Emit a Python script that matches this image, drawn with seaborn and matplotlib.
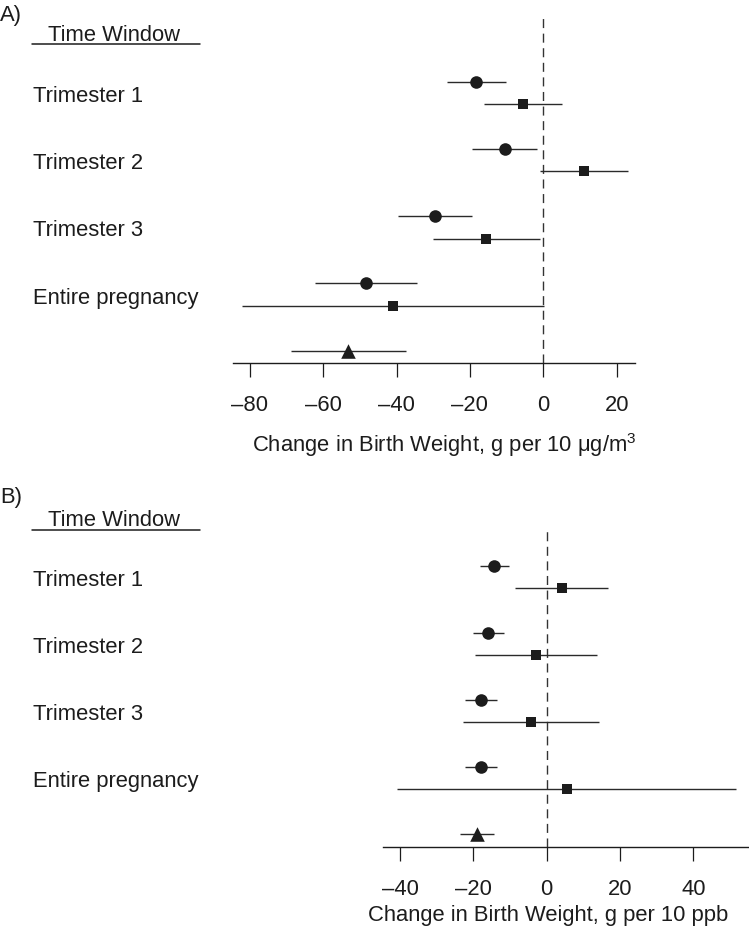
import numpy as np
import pandas as pd
import seaborn as sns
import matplotlib.pyplot as plt

# values
windows = ["Trimester 1", "Trimester 2", "Trimester 3", "Entire pregnancy"]

pm_circle_est = [-18.4, -10.4, -29.6, -48.2]
pm_circle_lo = [-26.3, -19.3, -39.5, -62.2]
pm_circle_hi = [-10.2, -1.6, -19.5, -34.3]
pm_square_est = [-5.5, 11.1, -15.5, -40.9]
pm_square_lo = [-16.1, -0.9, -30.0, -82.0]
pm_square_hi = [5.2, 23.2, -0.9, 0.2]
pm_triangle = [-53.1, -68.8, -37.3]  # est, lo, hi

o3_circle_est = [-14.3, -15.9, -18.0, -18.0]
o3_circle_lo = [-18.2, -20.0, -22.4, -22.4]
o3_circle_hi = [-10.4, -11.7, -13.6, -13.6]
o3_square_est = [4.1, -3.0, -4.3, 5.5]
o3_square_lo = [-8.6, -19.6, -22.9, -40.7]
o3_square_hi = [16.8, 13.6, 14.3, 51.6]
o3_triangle = [-18.9, -23.5, -14.4]

pm_ticks = [-80, -60, -40, -20, 0, 20]
o3_ticks = [-40, -20, 0, 20, 40]

sns.set_style("white")
plt.rcParams['font.family'] = ['Liberation Sans', 'DejaVu Sans']
plt.rcParams['mathtext.fontset'] = 'custom'
plt.rcParams['mathtext.rm'] = 'Liberation Sans'

INK = '#1c1c1c'
FS = 15.8


def build_frame(c_est, c_lo, c_hi, s_est, s_lo, s_hi, tri, sq_off):
    rows = []
    for k, w in enumerate(windows):
        rows.append(dict(window=w, model='circle', est=c_est[k], lo=c_lo[k], hi=c_hi[k], y=k))
        rows.append(dict(window=w, model='square', est=s_est[k], lo=s_lo[k], hi=s_hi[k], y=k + sq_off))
    rows.append(dict(window='pooled', model='triangle', est=tri[0], lo=tri[1], hi=tri[2], y=len(windows)))
    return pd.DataFrame(rows)


def draw_panel(fig, rect, df, xlim, ylim, ticks, xlabel, label_xy, letter, letter_y, head_y, line_y):
    ax = fig.add_axes(rect)
    ax.hlines(df['y'], df['lo'], df['hi'], color='#2a2a2a', lw=1.0, zorder=2)
    marks = {'circle': ('o', 82), 'square': ('s', 62), 'triangle': ('^', 110)}
    for model, (m, s) in marks.items():
        sub = df[df['model'] == model]
        sns.scatterplot(data=sub, x='est', y='y', marker=m, s=s, color=INK,
                        linewidth=0, legend=False, ax=ax, zorder=3)
    ax.axvline(0, color='#333333', lw=1.0, ls=(0, (6.5, 4)), zorder=1)
    ax.set_xlim(*xlim)
    ax.set_ylim(*ylim)
    ax.set_yticks([])
    ax.set_ylabel('')
    ax.set_xticks(ticks)
    ax.set_xticklabels([f"\u2013{abs(t)}" if t < 0 else str(t) for t in ticks])
    ax.tick_params(axis='x', direction='out', length=10, width=0.9, pad=13,
                   labelsize=FS, colors=INK, bottom=True)
    for side in ['left', 'top', 'right']:
        ax.spines[side].set_visible(False)
    ax.spines['bottom'].set_color(INK)
    ax.spines['bottom'].set_linewidth(1.0)
    ax.set_xlabel(xlabel, fontsize=FS, color=INK)
    ax.xaxis.set_label_coords(*label_xy)

    for k, w in enumerate(windows):
        ax.annotate(w, xy=(33 / 749, k + 0.3), xycoords=('figure fraction', 'data'),
                    ha='left', va='baseline', fontsize=FS, color=INK, annotation_clip=False)

    fig.text(0.0, letter_y, letter, fontsize=FS, color=INK, va='baseline')
    fig.text(48 / 749, head_y, "Time Window", fontsize=FS, color=INK, va='baseline')
    fig.add_artist(plt.Line2D([32 / 749, 200 / 749], [line_y, line_y],
                              transform=fig.transFigure, color=INK, lw=1.1))
    return ax


fig = plt.figure(figsize=(7.49, 9.40), dpi=100)

pm = build_frame(pm_circle_est, pm_circle_lo, pm_circle_hi,
                 pm_square_est, pm_square_lo, pm_square_hi, pm_triangle, 0.334)
o3 = build_frame(o3_circle_est, o3_circle_lo, o3_circle_hi,
                 o3_square_est, o3_square_lo, o3_square_hi, o3_triangle, 0.33)

draw_panel(fig, [233.3 / 749, 1 - 362.7 / 940, 401.7 / 749, 348.7 / 940], pm,
           (-84.5, 25), (4.178, -1.006), pm_ticks,
           "Change in Birth Weight, g per 10 \u03bcg/m$^3$", (0.5245, -68 / 348.7),
           "A)", 1 - 20.7 / 940, 1 - 40.7 / 940, 1 - 44.3 / 940)

draw_panel(fig, [382.7 / 749, 1 - 846.7 / 940, 365 / 749, 315.7 / 940], o3,
           (-44.7, 54.8), (4.19, -0.516), o3_ticks,
           "Change in Birth Weight, g per 10 ppb", (0.454, -58 / 315.7),
           "B)", 1 - 503 / 940, 1 - 526 / 940, 1 - 530 / 940)

fig.savefig("out.png", dpi=100)
